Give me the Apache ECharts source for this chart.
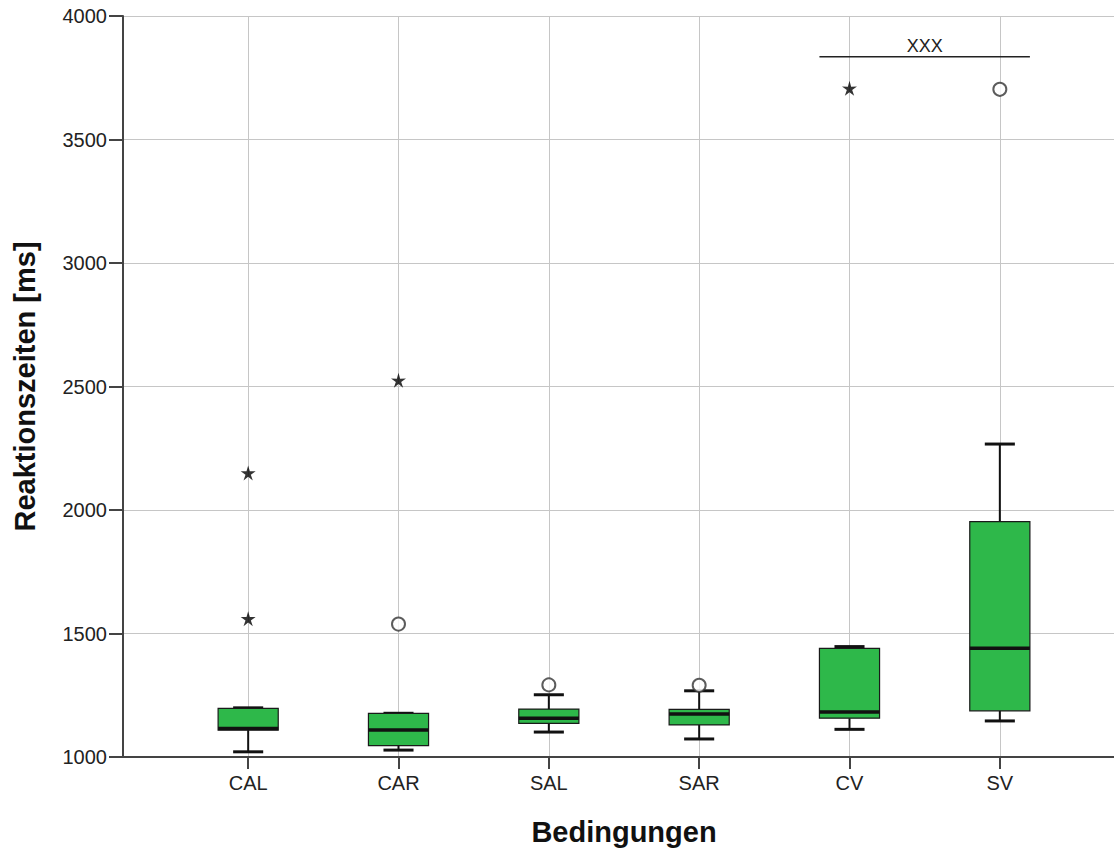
<!DOCTYPE html>
<html>
<head>
<meta charset="utf-8">
<script src="https://cdn.jsdelivr.net/npm/echarts@6/dist/echarts.min.js"></script>
<style>
  html, body { margin: 0; padding: 0; background: #fff; }
  #chart { width: 1114px; height: 849px; }
</style>
</head>
<body>
<div id="chart"></div>
<script>
// Reaction times per condition (ms)
const CATEGORIES = ['CAL', 'CAR', 'SAL', 'SAR', 'CV', 'SV'];
const WHISKER_LOW  = [1021, 1028, 1101, 1073, 1112, 1146];
const Q1           = [1109, 1046, 1136, 1130, 1157, 1187];
const MEDIAN       = [1115, 1109, 1157, 1174, 1182, 1440];
const Q3           = [1197, 1177, 1194, 1193, 1440, 1953];
const WHISKER_HIGH = [1199, 1177, 1252, 1268, 1447, 2267];

// Extreme values (stars) and outliers (circles): [condition, ms]
const EXTREMES = [['CAL', 2150], ['CAL', 1560], ['CAR', 2525], ['CV', 3707]];
const OUTLIERS = [['CAR', 1538], ['SAL', 1292], ['SAR', 1290], ['SV', 3703]];

// Significance bracket between CV and SV
const BRACKET_FROM = 'CV';
const BRACKET_TO = 'SV';
const BRACKET_VALUE = 3835;
const BRACKET_LABEL = 'XXX';

const Y_TICKS = [1000, 1500, 2000, 2500, 3000, 3500, 4000];

const GREEN = '#2eb84a';
const AXIS_COLOR = '#444';
const GRID_COLOR = '#c6c6c6';
const TEXT_COLOR = '#222';
const FONT = 'Liberation Sans, Arial, sans-serif';

const boxData = CATEGORIES.map((c, i) =>
  [i, WHISKER_LOW[i], Q1[i], MEDIAN[i], Q3[i], WHISKER_HIGH[i]]);

const bracketData = [[CATEGORIES.indexOf(BRACKET_FROM), CATEGORIES.indexOf(BRACKET_TO), BRACKET_VALUE]];

const STAR = 'path://M0,-10 L2.1,-2.9 L9.51,-3.09 L3.4,1.1 L5.88,8.09 L0,3.6 L-5.88,8.09 L-3.4,1.1 L-9.51,-3.09 L-2.1,-2.9 Z';

function renderBox(params, api) {
  const idx = api.value(0);
  const band = api.size([1, 0])[0];
  const half = band * 0.2;
  const capHalf = band * 0.1;
  const x = api.coord([idx, api.value(3)])[0];
  const yLo = api.coord([idx, api.value(1)])[1];
  const yQ1 = api.coord([idx, api.value(2)])[1];
  const yMed = api.coord([idx, api.value(3)])[1];
  const yQ3 = api.coord([idx, api.value(4)])[1];
  const yHi = api.coord([idx, api.value(5)])[1];
  const line = (x1, y1, x2, y2, w) => ({
    type: 'line',
    shape: { x1, y1, x2, y2 },
    style: { stroke: '#111', lineWidth: w }
  });
  return {
    type: 'group',
    children: [
      line(x, yHi, x, yQ3, 2),
      line(x, yQ1, x, yLo, 2),
      line(x - capHalf, yHi, x + capHalf, yHi, 3),
      line(x - capHalf, yLo, x + capHalf, yLo, 3),
      {
        type: 'rect',
        shape: { x: x - half, y: yQ3, width: half * 2, height: yQ1 - yQ3 },
        style: { fill: GREEN, stroke: '#1a1a1a', lineWidth: 1.2 }
      },
      line(x - half, yMed, x + half, yMed, 3.5)
    ]
  };
}

function renderBracket(params, api) {
  const band = api.size([1, 0])[0];
  const p1 = api.coord([api.value(0), api.value(2)]);
  const p2 = api.coord([api.value(1), api.value(2)]);
  const x1 = p1[0] - band * 0.2;
  const x2 = p2[0] + band * 0.2;
  return {
    type: 'group',
    children: [
      {
        type: 'line',
        shape: { x1, y1: p1[1], x2, y2: p2[1] },
        style: { stroke: '#222', lineWidth: 1.5 }
      },
      {
        type: 'text',
        x: (x1 + x2) / 2,
        y: p1[1] - 2,
        style: {
          text: BRACKET_LABEL,
          fill: TEXT_COLOR,
          font: '18px ' + FONT,
          textAlign: 'center',
          textVerticalAlign: 'bottom'
        }
      }
    ]
  };
}

const chart = echarts.init(document.getElementById('chart'), null, { renderer: 'svg' });

chart.setOption({
  animation: false,
  backgroundColor: '#fff',
  textStyle: { fontFamily: FONT },
  grid: [
    { left: 123, right: -20, top: 16, bottom: 92, outerBoundsMode: 'none', containLabel: false },
    { left: 173, right: 39, top: 16, bottom: 92, outerBoundsMode: 'none', containLabel: false }
  ],
  xAxis: [
    {
      gridIndex: 0, type: 'value', min: 0, max: 1,
      axisLine: { show: true, onZero: false, lineStyle: { color: AXIS_COLOR, width: 2 } },
      axisTick: { show: false }, axisLabel: { show: false }, splitLine: { show: false }
    },
    {
      gridIndex: 1, type: 'category', data: CATEGORIES,
      axisLine: { show: false },
      axisTick: { show: true, alignWithLabel: true, length: 12, lineStyle: { color: AXIS_COLOR, width: 2 } },
      axisLabel: { fontSize: 20, color: TEXT_COLOR, margin: 16, fontFamily: FONT },
      splitLine: { show: true, alignWithLabel: true, lineStyle: { color: GRID_COLOR, width: 1 } },
      name: 'Bedingungen', nameLocation: 'middle', nameGap: 60,
      nameTextStyle: { fontSize: 29, fontWeight: 'bold', color: '#111', fontFamily: FONT }
    }
  ],
  yAxis: [
    {
      gridIndex: 0, type: 'value', min: Y_TICKS[0], max: Y_TICKS[Y_TICKS.length - 1],
      interval: Y_TICKS[1] - Y_TICKS[0],
      axisLine: { show: true, lineStyle: { color: AXIS_COLOR, width: 2 } },
      axisTick: { show: true, length: 14, lineStyle: { color: AXIS_COLOR, width: 2 } },
      axisLabel: {
        fontSize: 20, color: TEXT_COLOR, margin: 16, fontFamily: FONT,
        formatter: (v) => String(v)
      },
      splitLine: { show: true, lineStyle: { color: GRID_COLOR, width: 1 } },
      name: 'Reaktionszeiten [ms]', nameLocation: 'middle', nameGap: 84,
      nameTextStyle: { fontSize: 29, fontWeight: 'bold', color: '#111', fontFamily: FONT }
    },
    {
      gridIndex: 1, type: 'value', min: Y_TICKS[0], max: Y_TICKS[Y_TICKS.length - 1],
      show: false
    }
  ],
  series: [
    {
      type: 'custom', name: 'boxes',
      xAxisIndex: 1, yAxisIndex: 1,
      renderItem: renderBox,
      encode: { x: 0, y: [1, 2, 3, 4, 5] },
      data: boxData, z: 2, silent: true
    },
    {
      type: 'scatter', name: 'extreme',
      xAxisIndex: 1, yAxisIndex: 1,
      symbol: STAR, symbolSize: 15,
      itemStyle: { color: '#000' },
      data: EXTREMES, z: 3, silent: true
    },
    {
      type: 'scatter', name: 'outlier',
      xAxisIndex: 1, yAxisIndex: 1,
      symbol: 'emptyCircle', symbolSize: 13,
      itemStyle: { color: '#333', borderWidth: 1.6 },
      data: OUTLIERS, z: 3, silent: true
    },
    {
      type: 'custom', name: 'bracket',
      xAxisIndex: 1, yAxisIndex: 1,
      renderItem: renderBracket,
      encode: { x: [0, 1], y: 2 },
      data: bracketData, z: 3, silent: true
    }
  ]
});
</script>
</body>
</html>
